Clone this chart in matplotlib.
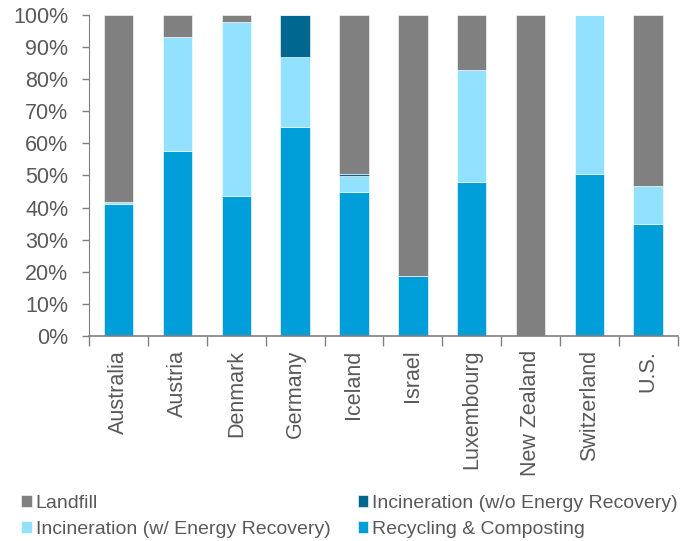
import matplotlib.pyplot as plt
import numpy as np
from matplotlib.ticker import PercentFormatter, FixedLocator

plt.rcParams['font.family'] = ['Liberation Sans', 'DejaVu Sans']

countries = ['Australia', 'Austria', 'Denmark', 'Germany', 'Iceland',
             'Israel', 'Luxembourg', 'New Zealand', 'Switzerland', 'U.S.']

# shares of municipal waste, percent
recycling = [41.0, 57.6, 43.6, 65.0, 45.0, 18.8, 48.0, 0.0, 50.5, 34.9]
inc_energy = [0.8, 35.4, 54.2, 21.8, 4.7, 0.0, 35.0, 0.0, 49.5, 11.8]
inc_no_energy = [0.0, 0.0, 0.0, 13.2, 0.8, 0.0, 0.0, 0.0, 0.0, 0.0]
landfill = [58.2, 7.0, 2.2, 0.0, 49.5, 81.2, 17.0, 100.0, 0.0, 53.3]

c_recycling = '#009fd9'
c_inc_energy = '#91e1ff'
c_inc_no_energy = '#006890'
c_landfill = '#808080'
text_col = '#595959'

fig = plt.figure(figsize=(6.9, 5.41), dpi=100)
ax = fig.add_axes([0.1294, 0.379, 0.8525, 0.5933])

x = np.arange(len(countries))
w = 0.5
bottom = np.zeros(len(countries))
bars = {}
for name, vals, col in [('Recycling & Composting', recycling, c_recycling),
                        ('Incineration (w/ Energy Recovery)', inc_energy, c_inc_energy),
                        ('Incineration (w/o Energy Recovery)', inc_no_energy, c_inc_no_energy),
                        ('Landfill', landfill, c_landfill)]:
    vals = np.array(vals)
    bars[name] = ax.bar(x, vals, w, bottom=bottom, color=col,
                        edgecolor='white', linewidth=0.4, label=name)
    bottom += vals

ax.set_xlim(-0.5, len(countries) - 0.5)
ax.set_ylim(0, 100)
ax.set_yticks(np.arange(0, 101, 10))
ax.yaxis.set_major_formatter(PercentFormatter(decimals=0))

ax.set_xticks(x)
ax.set_xticklabels(countries, rotation=90, fontsize=15.5, color=text_col)
ax.xaxis.set_minor_locator(FixedLocator(np.arange(-0.5, len(countries), 1)))
ax.tick_params(axis='x', which='major', length=0, pad=10)
ax.tick_params(axis='x', which='minor', length=7, color='#808080', width=1)
ax.tick_params(axis='y', length=5, color='#808080', width=1,
               labelsize=15.5, labelcolor=text_col, pad=10)

for s in ['top', 'right']:
    ax.spines[s].set_visible(False)
ax.spines['left'].set_color('#808080')
ax.spines['bottom'].set_color('#808080')
ax.spines['bottom'].set_linewidth(1.2)

order = ['Landfill', 'Incineration (w/ Energy Recovery)',
         'Incineration (w/o Energy Recovery)', 'Recycling & Composting']
fig.legend([bars[k] for k in order], order, ncol=2, loc='lower left',
           bbox_to_anchor=(0.005, -0.026), frameon=False, fontsize=14,
           labelcolor=text_col, handlelength=0.55, handleheight=0.55,
           handletextpad=0.2, columnspacing=1.4, labelspacing=0.45)

fig.savefig('out.png', dpi=100)
